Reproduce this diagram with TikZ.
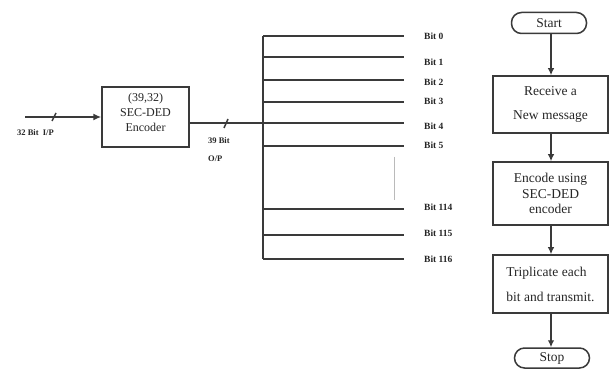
\documentclass[tikz,border=0pt]{standalone}
\usepackage{fontspec}
\setmainfont{Liberation Serif}
\usetikzlibrary{arrows.meta}
\definecolor{ln}{HTML}{3A3A3A}
\definecolor{tx}{HTML}{262626}
\begin{document}
\begin{tikzpicture}[x=1pt,y=-1pt,
  wire/.style={draw=ln,line width=1.5pt},
  thin/.style={draw=ln!35,line width=0.9pt},
  blk/.style={draw=ln,line width=1.5pt,fill=white,inner sep=0pt,text=tx},
  term/.style={blk,rounded corners=10pt},
  smalllbl/.style={font=\fontsize{8.5}{9}\selectfont\bfseries,text=tx,inner sep=0pt},
  bitlbl/.style={smalllbl,anchor=west,font=\fontsize{9.5}{10}\selectfont\bfseries},
  flowtxt/.style={font=\fontsize{13.5}{15.5}\selectfont},
  arr/.style={wire,-{Latex[length=7pt,width=6.5pt]}}
]
\useasboundingbox (0,0) rectangle (613,371);
\fill[white] (0,0) rectangle (613,371);

% encoder
\node[blk,minimum width=87,minimum height=60] (enc) at (145.5,117) {};
\node[inner sep=0pt,align=center,text=tx,font=\fontsize{12}{15}\selectfont] (enct) at (145.5,112.5) {(39,32)\\SEC-DED\\Encoder};
\coordinate (in) at (25,117);
\draw[wire,-{Latex[length=8pt,width=7pt]}] (in) -- (enc.west);
\draw[wire] (52,121) -- (56,113);
\node[smalllbl,anchor=west] (inlbl) at (17,133) {32 Bit\ \ I/P};

% bus
\coordinate (b4) at (263,123);
\draw[wire] (enc.east |- b4) -- (b4);
\draw[wire] (224,128) -- (228,119);
\node[smalllbl,anchor=west] (outlbl1) at (208,141) {39 Bit};
\node[smalllbl,anchor=west] (outlbl2) at (208,159) {O/P};
\coordinate (bustop) at (263,36);
\coordinate (busbot) at (263,259);
\draw[wire] (bustop) -- (busbot);
\foreach \ly/\ty/\t/\n in {36/36/0/a,57/62/1/b,80/82/2/c,102/101/3/d,123/126/4/e,146/145/5/f,209/207/114/g,235/233/115/h,259/259/116/i}{
  \coordinate (s\n) at (263,\ly);
  \coordinate (e\n) at (404,\ly);
  \draw[wire] (s\n) -- (e\n);
  \node[bitlbl] (bit\n) at (424,\ty) {Bit \t};
}
\coordinate (dt) at (394,157);
\coordinate (db) at (394,200);
\draw[thin] (dt) -- (db);

% flowchart
\node[term,minimum width=75,minimum height=21,flowtxt] (start) at (549,23) {Start};
\node[blk,minimum width=115,minimum height=57,align=center,flowtxt] (b1) at (550.5,104.5) {Receive a\\[8.5pt]New message};
\node[blk,minimum width=115,minimum height=63,align=center,flowtxt] (b2) at (550.5,193.5) {Encode using\\SEC-DED\\encoder};
\node[blk,minimum width=115,minimum height=58,align=left,flowtxt] (b3) at (550.5,284) {Triplicate each\\[9.5pt]bit and transmit.};
\node[term,minimum width=75,minimum height=20,flowtxt] (stop) at (552,358) {Stop};
\draw[arr] (start.south -| 551,0) -- (b1.north -| 551,0);
\draw[arr] (b1.south -| 551,0) -- (b2.north -| 551,0);
\draw[arr] (b2.south -| 551,0) -- (b3.north -| 551,0);
\draw[arr] (b3.south -| 551,0) -- (stop.north -| 551,0);
\end{tikzpicture}
\end{document}
